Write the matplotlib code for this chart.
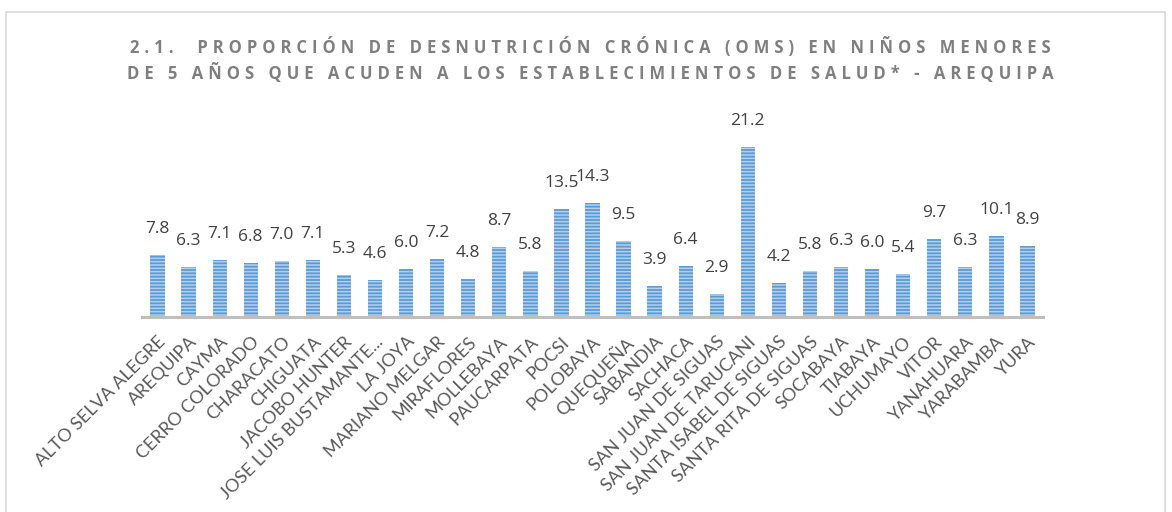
import matplotlib
matplotlib.use("Agg")
import matplotlib.pyplot as plt
from matplotlib.patches import Rectangle

districts = ["ALTO SELVA ALEGRE", "AREQUIPA", "CAYMA", "CERRO COLORADO", "CHARACATO",
             "CHIGUATA", "JACOBO HUNTER", "JOSE LUIS BUSTAMANTE...", "LA JOYA",
             "MARIANO MELGAR", "MIRAFLORES", "MOLLEBAYA", "PAUCARPATA", "POCSI",
             "POLOBAYA", "QUEQUEÑA", "SABANDIA", "SACHACA", "SAN JUAN DE SIGUAS",
             "SAN JUAN DE TARUCANI", "SANTA ISABEL DE SIGUAS", "SANTA RITA DE SIGUAS",
             "SOCABAYA", "TIABAYA", "UCHUMAYO", "VITOR", "YANAHUARA", "YARABAMBA", "YURA"]
values = [7.8, 6.3, 7.1, 6.8, 7.0, 7.1, 5.3, 4.6, 6.0, 7.2, 4.8, 8.7, 5.8, 13.5,
          14.3, 9.5, 3.9, 6.4, 2.9, 21.2, 4.2, 5.8, 6.3, 6.0, 5.4, 9.7, 6.3, 10.1, 8.9]
title_lines = ["2.1.  PROPORCIÓN DE DESNUTRICIÓN CRÓNICA (OMS) EN NIÑOS MENORES",
               "DE 5 AÑOS QUE ACUDEN A LOS ESTABLECIMIENTOS DE SALUD* - AREQUIPA"]

plt.rcParams['font.family'] = ['Open Sans', 'DejaVu Sans']
plt.rcParams['hatch.linewidth'] = 1.1

fig = plt.figure(figsize=(11.72, 5.12), dpi=100)
W, H = 1172, 512

# chart frame
fig.patches.append(Rectangle((6 / W, -0.1), (1165 - 6) / W, (H - 12) / H + 0.1,
                             transform=fig.transFigure, fill=False,
                             edgecolor='#D9D9D9', linewidth=1.2))

ax = fig.add_axes([142 / W, (H - 317) / H, 901 / W, 200 / H])
x = range(len(values))
ax.bar(x, values, width=0.46, color='#5B9BD5', edgecolor='#B4D0EE',
       linewidth=0, hatch='-----')
ax.set_xlim(-0.5, len(values) - 0.5)
ax.set_ylim(0, 25)

for i, v in enumerate(values):
    ax.annotate(f"{v:.1f}", (i, v), xytext=(0, 18), textcoords='offset pixels',
                ha='center', va='bottom', fontsize=12.5, color='#404040')

ax.set_xticks(list(x))
ax.set_xticklabels(districts, rotation=45, ha='right', rotation_mode='anchor',
                   fontsize=13, color='#595959', family=['Lato', 'DejaVu Sans'])
ax.tick_params(axis='x', length=0, pad=12)
ax.set_yticks([])
for s in ['top', 'right', 'left']:
    ax.spines[s].set_visible(False)
ax.spines['bottom'].set_color('#BFBFBF')
ax.spines['bottom'].set_linewidth(2.2)

# spaced-out title
sp = '\u2009\u200a'
for k, line in enumerate(title_lines):
    fig.text(590 / W, 1 - (47 + 26 * k) / H, sp.join(line), ha='center', va='center',
             fontsize=12, fontweight='bold', color='#7F7F7F')

fig.savefig("out.png", dpi=100)
